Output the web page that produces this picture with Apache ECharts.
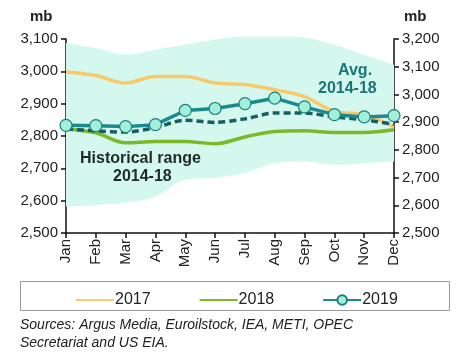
<!DOCTYPE html>
<html>
<head>
<meta charset="utf-8">
<script src="https://cdn.jsdelivr.net/npm/echarts@6/dist/echarts.min.js"></script>
<style>html,body{margin:0;padding:0;background:#fff}#c{width:460px;height:360px}</style>
</head>
<body>
<div id="c"></div>
<script>
var months = ['Jan','Feb','Mar','Apr','May','Jun','Jul','Aug','Sep','Oct','Nov','Dec'];
var leftTicks = [2500, 3100, 100];
var rightTicks = [2500, 3200, 100];
var rangeLow  = [2582, 2586, 2594, 2613, 2665, 2671, 2686, 2716, 2721, 2711, 2716, 2721];
var rangeHigh = [3088, 3072, 3052, 3067, 3083, 3098, 3108, 3108, 3105, 3082, 3051, 3020];
var avg1418   = [2822, 2816, 2812, 2826, 2849, 2842, 2853, 2871, 2871, 2859, 2850, 2836];
var s2017     = [2998, 2987, 2964, 2984, 2984, 2964, 2959, 2943, 2922, 2876, 2866, 2828];
var s2018     = [2822, 2810, 2779, 2783, 2783, 2776, 2797, 2814, 2816, 2811, 2811, 2819];
var s2019     = [2833, 2832, 2829, 2835, 2879, 2885, 2900, 2917, 2890, 2866, 2859, 2863];

var rangeSpan = rangeHigh.map(function(v, i){ return v - rangeLow[i]; });
var FONT = '"Liberation Sans", Arial, sans-serif';
var chart = echarts.init(document.getElementById('c'));
chart.setOption({
  animation: false,
  textStyle: {fontFamily: FONT},
  grid: {left: 66, right: 66, top: 39, bottom: 127},
  legend: {
    left: 70, top: 287, itemWidth: 38, itemHeight: 12, itemGap: 48,
    data: [
      {name: '2017', itemStyle: {color: 'rgba(0,0,0,0)', borderWidth: 0}},
      {name: '2018', itemStyle: {color: 'rgba(0,0,0,0)', borderWidth: 0}},
      {name: '2019'}
    ],
    textStyle: {fontSize: 16, color: '#222', fontFamily: FONT, padding: [0,0,0,-4]}
  },
  xAxis: {
    type: 'category', data: months, boundaryGap: false,
    axisLine: {lineStyle: {color: '#111', width: 1.5}},
    axisTick: {show: true, length: 5, interval: 0, lineStyle: {color: '#111', width: 1.5}},
    axisLabel: {rotate: 90, fontSize: 15, color: '#222', margin: 6, interval: 0}
  },
  yAxis: [{
    type: 'value', min: leftTicks[0], max: leftTicks[1], interval: leftTicks[2],
    splitLine: {show: false},
    axisLine: {show: true, lineStyle: {color: '#111', width: 1.5}},
    axisTick: {show: true, length: 5, lineStyle: {color: '#111', width: 1.5}},
    axisLabel: {fontSize: 15, color: '#222', margin: 8,
      formatter: function(v){ return v.toLocaleString('en-US'); }}
  }, {
    type: 'value', min: rightTicks[0], max: rightTicks[1], interval: rightTicks[2],
    splitLine: {show: false},
    axisLine: {show: true, lineStyle: {color: '#111', width: 1.5}},
    axisTick: {show: true, length: 5, lineStyle: {color: '#111', width: 1.5}},
    axisLabel: {fontSize: 15, color: '#222', margin: 8,
      formatter: function(v){ return v.toLocaleString('en-US'); }}
  }],
  series: [
    {name: 'low', type: 'line', stack: 'band', data: rangeLow, symbol: 'none', smooth: 0.35,
     lineStyle: {opacity: 0}, clip: false, silent: true},
    {name: 'range', type: 'line', stack: 'band', data: rangeSpan, symbol: 'none', smooth: 0.35,
     lineStyle: {opacity: 0}, areaStyle: {color: '#d4f8ed', opacity: 1}, clip: false, silent: true},
    {name: '2018', type: 'line', data: s2018, symbol: 'none', smooth: 0.35,
     lineStyle: {color: '#7bb92b', width: 3.5}, itemStyle: {color: '#7bb92b'}},
    {name: '2017', type: 'line', data: s2017, symbol: 'none', smooth: 0.35,
     lineStyle: {color: '#f8c96a', width: 3.5}, itemStyle: {color: '#f8c96a'}},
    {name: 'avg', type: 'line', data: avg1418, symbol: 'none', smooth: 0.3,
     lineStyle: {color: '#165f62', width: 3.5, type: [7, 4]}},
    {name: '2019', type: 'line', data: s2019, symbol: 'circle', symbolSize: 12,
     lineStyle: {color: '#1b8a8e', width: 3.5},
     itemStyle: {color: '#a3f0da', borderColor: '#1b7f80', borderWidth: 1.2}}
  ],
  graphic: [
    {type: 'text', z: 100, left: 30, top: 9, style: {text: 'mb', font: 'bold 15px ' + FONT, fill: '#222'}},
    {type: 'text', z: 100, left: 404, top: 9, style: {text: 'mb', font: 'bold 15px ' + FONT, fill: '#222'}},
    {type: 'text', z: 100, left: 80, top: 151, style: {text: 'Historical range', font: 'bold 16px ' + FONT, fill: '#1e2a26'}},
    {type: 'text', z: 100, left: 113, top: 169, style: {text: '2014-18', font: 'bold 16px ' + FONT, fill: '#1e2a26'}},
    {type: 'text', z: 100, left: 338, top: 63, style: {text: 'Avg.', font: 'bold 16px ' + FONT, fill: '#1d7476'}},
    {type: 'text', z: 100, left: 318, top: 81, style: {text: '2014-18', font: 'bold 16px ' + FONT, fill: '#1d7476'}},
    {type: 'rect', z: 100, shape: {x: 20.5, y: 281.5, width: 429, height: 29}, style: {fill: 'none', stroke: '#9a9a9a', lineWidth: 1}},
    {type: 'text', z: 100, left: 20, top: 318, style: {text: 'Sources: Argus Media, Euroilstock, IEA, METI, OPEC', font: 'italic 14px ' + FONT, fill: '#222'}},
    {type: 'text', z: 100, left: 20, top: 336, style: {text: 'Secretariat and US EIA.', font: 'italic 14px ' + FONT, fill: '#222'}}
  ]
});
</script>
</body>
</html>
